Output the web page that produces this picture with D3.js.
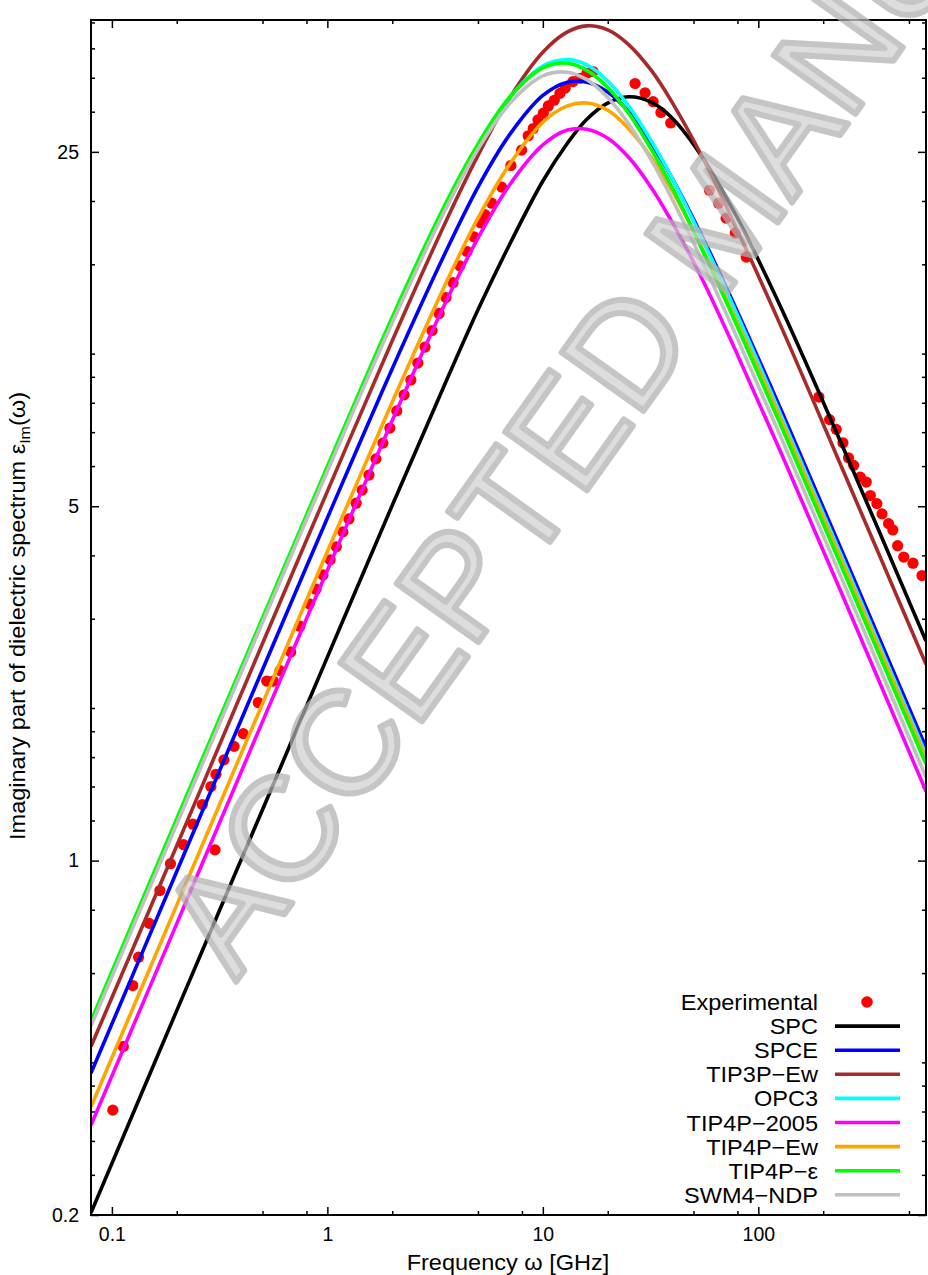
<!DOCTYPE html>
<html>
<head>
<meta charset="utf-8">
<script src="https://cdn.jsdelivr.net/npm/d3@7"></script>
<style>
body { margin: 0; background: #fff; }
text { font-family: "Liberation Sans", Arial, sans-serif; }
</style>
</head>
<body>
<script>
// frequencies (GHz) where the model curves were read
var modelFreq = [0.08, 0.2, 0.5, 1, 2, 3.5, 5, 7, 10, 13, 16, 20, 25, 32, 40, 55, 80, 130, 250, 600];

var spc       = [0.202, 0.506, 1.26, 2.52, 5.02, 8.68, 12.2, 16.4, 21.9, 26.0, 29.0, 31.2, 32.1, 31.3, 29.1, 24.4, 18.5, 12.1, 6.46, 2.71],
	spce      = [0.381, 0.952, 2.38, 4.74, 9.34, 15.7, 21.3, 27.0, 32.3, 34.3, 34.3, 32.8, 30.0, 25.9, 22.1, 17.0, 12.1, 7.60, 3.99, 1.67],
	tip3pew   = [0.430, 1.07, 2.68, 5.35, 10.6, 18.0, 24.6, 31.9, 39.3, 43.1, 44.3, 43.5, 40.7, 36.1, 31.2, 24.4, 17.5, 11.1, 5.82, 2.44],
	opc3      = [0.475, 1.19, 2.96, 5.90, 11.6, 19.3, 25.8, 32.0, 36.9, 38.0, 37.1, 34.5, 30.8, 26.2, 22.1, 16.8, 11.9, 7.41, 3.88, 1.62],
	tip4p2005 = [0.301, 0.751, 1.88, 3.74, 7.38, 12.5, 16.9, 21.5, 25.8, 27.6, 27.7, 26.6, 24.4, 21.2, 18.1, 14.0, 9.95, 6.25, 3.28, 1.37],
	tip4pew   = [0.327, 0.817, 2.04, 4.07, 8.03, 13.6, 18.5, 23.6, 28.6, 30.8, 31.2, 30.2, 27.8, 24.3, 20.9, 16.1, 11.5, 7.26, 3.81, 1.59],
	tip4peps  = [0.483, 1.21, 3.01, 5.99, 11.8, 19.6, 25.9, 32.0, 36.6, 37.4, 36.2, 33.5, 29.8, 25.2, 21.2, 16.0, 11.3, 7.07, 3.70, 1.55],
	swm4ndp   = [0.472, 1.18, 2.95, 5.86, 11.5, 19.1, 25.3, 31.1, 35.3, 35.9, 34.7, 32.0, 28.4, 24.0, 20.1, 15.2, 10.7, 6.70, 3.51, 1.46];

// experimental points
var expFreq = [0.101, 0.113, 0.125, 0.133, 0.149, 0.167, 0.187, 0.215, 0.238, 0.263, 0.288, 0.301, 0.304, 0.331, 0.369, 0.407,
	0.478, 0.523, 0.561, 0.603, 0.676, 0.746, 0.824, 0.886, 0.954, 1.03, 1.10, 1.18, 1.26, 1.36, 1.45, 1.56, 1.68, 1.81, 1.95,
	2.10, 2.27, 2.44, 2.63, 2.84, 3.06, 3.30, 3.55, 3.83, 4.12, 4.45, 4.79, 5.16, 5.39, 5.79, 6.44, 7.11, 7.97, 8.55, 9.02, 9.49,
	10.05, 10.6, 11.3, 12.0, 12.7, 13.8, 14.9, 16.0, 17.1, 26.8, 29.8, 32.5, 35.3, 39.2, 59.3, 65.4, 70.9, 78.2, 87.9,
	191, 214, 230, 247, 262, 277, 297, 317, 331, 355, 375, 402, 421, 443, 473, 522, 575];
var expVal = [0.322, 0.43, 0.567, 0.645, 0.752, 0.873, 0.986, 1.075, 1.18, 1.29, 1.40, 1.05, 1.48, 1.58, 1.68, 1.78,
	2.05, 2.26, 2.26, 2.37, 2.58, 2.90, 3.21, 3.43, 3.66, 3.92, 4.16, 4.45, 4.72, 5.07, 5.38, 5.76, 6.20, 6.66, 7.13,
	7.71, 8.29, 8.87, 9.58, 10.3, 11.1, 12.0, 12.9, 13.8, 14.9, 15.9, 17.0, 18.1, 18.8, 19.8, 21.3, 23.5, 25.2, 26.9, 27.8, 28.9,
	29.8, 30.8, 31.6, 32.6, 33.4, 34.4, 34.9, 35.7, 36.0, 34.1, 32.7, 31.4, 29.9, 28.5, 21.0, 19.8, 18.5, 17.3, 15.5,
	8.21, 7.41, 7.09, 6.67, 6.23, 6.02, 5.71, 5.58, 5.25, 5.06, 4.83, 4.62, 4.49, 4.18, 3.97, 3.86, 3.65];

// tick values
var xMajor = [0.1, 1, 10, 100],
	xMinor = [0.2, 0.5, 0.8, 2, 5, 8, 20, 50, 80, 200, 500],
	yMajor = [0.2, 1, 5, 25],
	yMinor = [0.24, 0.28, 0.32, 0.36, 0.4, 0.6, 0.8, 1.2, 1.4, 1.6, 1.8, 2, 3, 4,
		6, 7, 8, 9, 10, 15, 20, 30, 35, 40, 45];

var names = ['SPC', 'SPCE', 'TIP3P\u2212Ew', 'OPC3', 'TIP4P\u22122005', 'TIP4P\u2212Ew', 'TIP4P\u2212\u03b5', 'SWM4\u2212NDP'];
var colors = ['#000000', '#0000ff', '#a52a2a', '#00ffff', '#ff00ff', '#ffa500', '#00ff00', '#c0c0c0'];
var series = [spc, spce, tip3pew, opc3, tip4p2005, tip4pew, tip4peps, swm4ndp];

var margin = {top: 20, right: 2, bottom: 60, left: 91},
	width = 928 - margin.left - margin.right,
	height = 1275 - margin.top - margin.bottom;

var x = d3.scaleLog().domain([0.08, 600]).range([0, width]);
var y = d3.scaleLog().domain([0.2, 45.5]).range([height, 0]);

var svg = d3.select('body').append('svg')
	.attr('width', 928)
	.attr('height', 1275);

var main = svg.append('g')
	.attr('transform', 'translate(' + margin.left + ',' + margin.top + ')');

main.append('clipPath').attr('id', 'clip')
	.append('rect').attr('width', width).attr('height', height);

// axes, ticks pointing inward on all four sides
function styleAxis(g) {
	g.select('.domain').remove();
	g.selectAll('.tick line').attr('stroke', '#000').attr('stroke-width', 1.5);
	g.selectAll('.tick text').attr('font-size', 19.5).attr('font-family', '"Liberation Sans", Arial, sans-serif').attr('fill', '#000');
}
var fmt = function(d) { return String(d); };

main.append('g').attr('transform', 'translate(0,' + height + ')')
	.call(d3.axisBottom(x).tickValues(xMajor).tickFormat(fmt).tickSize(-8).tickPadding(12)).call(styleAxis);
main.append('g').attr('transform', 'translate(0,' + height + ')')
	.call(d3.axisBottom(x).tickValues(xMinor).tickFormat('').tickSize(-4)).call(styleAxis);
main.append('g')
	.call(d3.axisTop(x).tickValues(xMajor).tickFormat('').tickSize(-8)).call(styleAxis);
main.append('g')
	.call(d3.axisTop(x).tickValues(xMinor).tickFormat('').tickSize(-4)).call(styleAxis);

main.append('g')
	.call(d3.axisLeft(y).tickValues(yMajor).tickFormat(fmt).tickSize(-8).tickPadding(12)).call(styleAxis);
main.append('g')
	.call(d3.axisLeft(y).tickValues(yMinor).tickFormat('').tickSize(-4)).call(styleAxis);
main.append('g').attr('transform', 'translate(' + width + ',0)')
	.call(d3.axisRight(y).tickValues(yMajor).tickFormat('').tickSize(-8)).call(styleAxis);
main.append('g').attr('transform', 'translate(' + width + ',0)')
	.call(d3.axisRight(y).tickValues(yMinor).tickFormat('').tickSize(-4)).call(styleAxis);

var plot = main.append('g').attr('clip-path', 'url(#clip)');

// experimental dots
plot.selectAll('circle.exp')
	.data(expFreq)
	.enter().append('circle')
		.attr('class', 'exp')
		.attr('cx', function(d) { return x(d); })
		.attr('cy', function(d, i) { return y(expVal[i]); })
		.attr('r', 5.6)
		.attr('fill', '#ff0000');

// model curves
var line = d3.line()
	.x(function(d) { return x(d[0]); })
	.y(function(d) { return y(d[1]); })
	.curve(d3.curveCatmullRom);

series.forEach(function(vals, k) {
	plot.append('path')
		.datum(modelFreq.map(function(f, i) { return [f, vals[i]]; }))
		.attr('d', line)
		.attr('fill', 'none')
		.attr('stroke', colors[k])
		.attr('stroke-width', 3.6);
});

// watermark, cut by the page edge like in the source
svg.append('text')
	.attr('transform', 'translate(236,982) rotate(-54.5)')
	.attr('font-size', 146)
	.attr('fill', '#d0d0d0')
	.attr('stroke', '#b0b0b0')
	.attr('stroke-width', 6)
	.attr('stroke-linejoin', 'round')
	.attr('opacity', 0.72)
	.text('ACCEPTED MANU');

main.append('rect')
	.attr('width', width)
	.attr('height', height)
	.attr('fill', 'none')
	.attr('stroke', '#000')
	.attr('stroke-width', 2);

// legend
var legend = svg.append('g');
var rowY = function(i) { return 1002 + i * 24.1; };

legend.append('text')
	.attr('transform', 'translate(818,' + (rowY(0) + 8) + ') scale(1.07,1)')
	.attr('text-anchor', 'end').attr('font-size', 22)
	.text('Experimental');
legend.append('circle').attr('cx', 867).attr('cy', rowY(0)).attr('r', 5.8).attr('fill', '#ff0000');

names.forEach(function(n, k) {
	legend.append('text')
		.attr('transform', 'translate(818,' + (rowY(k + 1) + 8) + ') scale(1.07,1)')
		.attr('text-anchor', 'end').attr('font-size', 22)
		.text(n);
	legend.append('line')
		.attr('x1', 835).attr('x2', 900)
		.attr('y1', rowY(k + 1)).attr('y2', rowY(k + 1))
		.attr('stroke', colors[k]).attr('stroke-width', 3.6);
});

// axis titles
svg.append('text')
	.attr('transform', 'translate(508,1270) scale(1.07,1)')
	.attr('text-anchor', 'middle').attr('font-size', 22)
	.text('Frequency \u03c9 [GHz]');

var yt = svg.append('text')
	.attr('transform', 'translate(25,616) rotate(-90) scale(1.07,1)')
	.attr('text-anchor', 'middle').attr('font-size', 22);
yt.append('tspan').text('Imaginary part of dielectric spectrum \u03b5');
yt.append('tspan').attr('font-size', 15).attr('dy', 5).text('Im');
yt.append('tspan').attr('dy', -5).text('(\u03c9)');
</script>
</body>
</html>
